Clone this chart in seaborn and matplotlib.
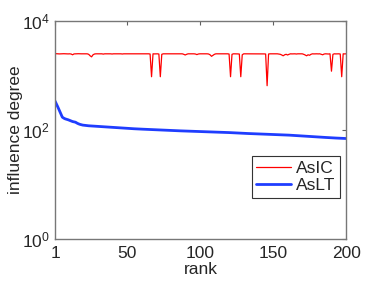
import numpy as np
import pandas as pd
import matplotlib
matplotlib.use("Agg")
import matplotlib.pyplot as plt
import matplotlib.ticker as mticker
import seaborn as sns

# rank 1..200
rank = list(range(1, 201))

# AsIC influence degree
asic = [
    2500, 2510, 2500, 2490, 2500, 2500, 2510, 2500, 2500, 2490, 2500, 2480, 2400, 2490, 2500, 2500, 2510, 2500, 2500, 2500,
    2490, 2500, 2500, 2450, 2300, 2200, 2400, 2480, 2500, 2500, 2490, 2500, 2500, 2470, 2500, 2500, 2490, 2500, 2500, 2480,
    2500, 2500, 2490, 2500, 2500, 2500, 2480, 2500, 2500, 2490, 2500, 2500, 2500, 2490, 2500, 2500, 2500, 2490, 2500, 2500,
    2500, 2490, 2500, 2500, 2500, 2480, 950, 2500, 2490, 2500, 2500, 2480, 950, 2450, 2500, 2500, 2490, 2500, 2500, 2500,
    2500, 2490, 2500, 2500, 2500, 2500, 2490, 2500, 2450, 2380, 2450, 2500, 2500, 2490, 2500, 2500, 2480, 2420, 2480, 2500,
    2500, 2500, 2490, 2500, 2500, 2480, 2400, 2250, 2350, 2450, 2500, 2500, 2490, 2500, 2500, 2500, 2490, 2500, 2500, 2480,
    950, 2450, 2500, 2500, 2500, 2490, 2480, 950, 2400, 2500, 2500, 2490, 2500, 2500, 2500, 2490, 2500, 2500, 2500, 2490,
    2500, 2500, 2500, 2490, 2480, 650, 2480, 2500, 2500, 2490, 2500, 2500, 2500, 2480, 2450, 2380, 2300, 2400, 2450, 2380,
    2450, 2500, 2490, 2500, 2500, 2480, 2500, 2500, 2490, 2500, 2450, 2380, 2300, 2400, 2350, 2450, 2500, 2490, 2500, 2500,
    2490, 2500, 2450, 2400, 2480, 2500, 2490, 2480, 2500, 1200, 2450, 2500, 2490, 2500, 2500, 2480, 950, 2500, 2490, 2500,
]

# AsLT influence degree
aslt = [
    340, 300, 262, 228, 198, 172, 165, 160, 157, 154, 150, 146, 143, 141, 139, 134, 130, 127, 125, 123,
    122, 121, 120, 119.5, 119, 118.5, 118, 117.5, 117, 116.5, 116, 115.5, 115, 114.5, 114, 113.5, 113, 112.5, 112, 111.5,
    111, 110.6, 110.2, 109.8, 109.4, 109, 108.6, 108.2, 107.8, 107.4, 107, 106.6, 106.2, 105.8, 105.4, 105, 104.7, 104.4, 104.1, 103.8,
    103.5, 103.2, 102.9, 102.6, 102.3, 102, 101.7, 101.4, 101.1, 100.8, 100.5, 100.2, 99.9, 99.6, 99.3, 99, 98.7, 98.4, 98.1, 97.8,
    97.6, 97.4, 97.2, 97, 96.8, 96.6, 96.4, 96.2, 96, 95.8, 95.6, 95.4, 95.2, 95, 94.8, 94.6, 94.4, 94.2, 94, 93.8,
    93.6, 93.4, 93.2, 93, 92.8, 92.6, 92.4, 92.2, 92, 91.8, 91.6, 91.4, 91.2, 91, 90.8, 90.6, 90.4, 90.2, 90, 89.7,
    89.4, 89.1, 88.8, 88.5, 88.2, 87.9, 87.6, 87.3, 87, 86.8, 86.6, 86.4, 86.2, 86, 85.8, 85.6, 85.4, 85.2, 85, 84.8,
    84.6, 84.4, 84.2, 84, 83.8, 83.6, 83.4, 83.2, 83, 82.8, 82.6, 82.4, 82.2, 82, 81.8, 81.6, 81.4, 81.2, 81, 80.8,
    80.5, 80.2, 79.9, 79.6, 79.3, 79, 78.7, 78.4, 78.1, 77.8, 77.5, 77.2, 76.9, 76.6, 76.3, 76, 75.7, 75.4, 75.1, 74.8,
    74.5, 74.2, 73.9, 73.6, 73.3, 73, 72.7, 72.4, 72.1, 71.8, 71.6, 71.4, 71.2, 71, 70.8, 70.6, 70.4, 70.2, 70, 69.8,
]

x_ticks = [1, 50, 100, 150, 200]
y_ticks = [1, 100, 10000]

sns.set_style("white")
plt.rcParams["font.family"] = ["Liberation Sans", "DejaVu Sans"]
plt.rcParams["mathtext.default"] = "regular"

df = pd.DataFrame({"rank": rank, "AsIC": asic, "AsLT": aslt})

fig = plt.figure(figsize=(3.82, 2.82), dpi=100)
ax = fig.add_axes([0.144, 0.1525, 0.762, 0.773])

sns.lineplot(data=df, x="rank", y="AsIC", ax=ax, color="#ff0000", linewidth=0.9, label="AsIC")
sns.lineplot(data=df, x="rank", y="AsLT", ax=ax, color="#1f3dff", linewidth=2.0, label="AsLT")

ax.set_yscale("log")
ax.set_xlim(1, 200)
ax.set_ylim(1, 10000)
ax.set_xticks(x_ticks)
ax.set_yticks(y_ticks)
ax.yaxis.set_major_formatter(mticker.LogFormatterSciNotation())
ax.yaxis.set_minor_locator(mticker.NullLocator())
ax.tick_params(direction="in", length=3, width=0.8, color="#606060",
               top=True, right=True, labelsize=12.5)
ax.tick_params(axis="x", pad=5)
ax.tick_params(axis="y", pad=4)

for sp in ax.spines.values():
    sp.set_color("#777777")
    sp.set_linewidth(1.0)

ax.set_xlabel("rank", fontsize=12.5, labelpad=1)
ax.set_ylabel("influence degree", fontsize=12.5, labelpad=-1)

leg = ax.legend(loc="upper right", bbox_to_anchor=(0.978, 0.38), fontsize=12.5,
                fancybox=False, framealpha=1, edgecolor="#333333",
                handlelength=2.0, handletextpad=0.3, borderpad=0.25,
                labelspacing=0.15, borderaxespad=0)
leg.get_frame().set_linewidth(0.8)

fig.savefig("out.png", dpi=100)
